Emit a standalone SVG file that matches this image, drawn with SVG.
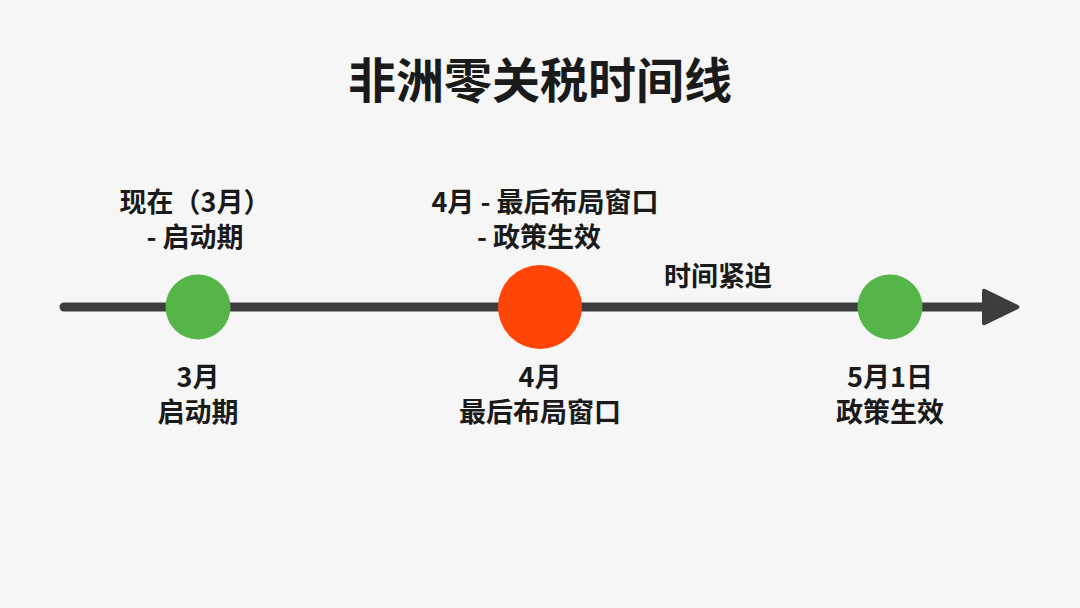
<svg xmlns="http://www.w3.org/2000/svg" width="1080" height="608" viewBox="0 0 1080 608">
  <style>
    text { font-family: "Noto Sans CJK SC", "Noto Sans", sans-serif; font-weight: bold; fill: #1a1a1a; text-anchor: middle; }
    .title { font-size: 48px; }
    .lbl { font-size: 27px; }
    .axis { stroke: #3d3d3d; stroke-width: 9; stroke-linecap: round; fill: none; }
    .head { fill: #3d3d3d; }
    .green { fill: #55b549; }
    .red { fill: #ff4608; }
  </style>
  <rect width="1080" height="608" fill="#f6f6f6"/>
  <g id="title">
    <text class="title" x="540" y="98">非洲零关税时间线</text>
  </g>
  <g id="connectors">
    <line class="axis" x1="64" y1="307" x2="985" y2="307"/>
    <path class="head" d="M985,289 L1018,305 Q1021,307 1018,309 L985,325 Q982,326 982,323 L982,291 Q982,288 985,289 Z"/>
  </g>
  <g id="node-march">
    <circle class="green" cx="198" cy="307" r="32.5"/>
    <text class="lbl" x="195" y="212">现在（3月）</text>
    <text class="lbl" x="195" y="247">- 启动期</text>
    <text class="lbl" x="198" y="387">3月</text>
    <text class="lbl" x="198" y="422">启动期</text>
  </g>
  <g id="node-april">
    <circle class="red" cx="540" cy="307" r="42"/>
    <text class="lbl" x="545" y="212">4月 - 最后布局窗口</text>
    <text class="lbl" x="539" y="247">- 政策生效</text>
    <text class="lbl" x="540" y="387">4月</text>
    <text class="lbl" x="540" y="422">最后布局窗口</text>
  </g>
  <g id="node-urgent">
    <text class="lbl" x="718" y="286">时间紧迫</text>
  </g>
  <g id="node-may">
    <circle class="green" cx="890" cy="307" r="32.5"/>
    <text class="lbl" x="890" y="387">5月1日</text>
    <text class="lbl" x="890" y="422">政策生效</text>
  </g>
</svg>
